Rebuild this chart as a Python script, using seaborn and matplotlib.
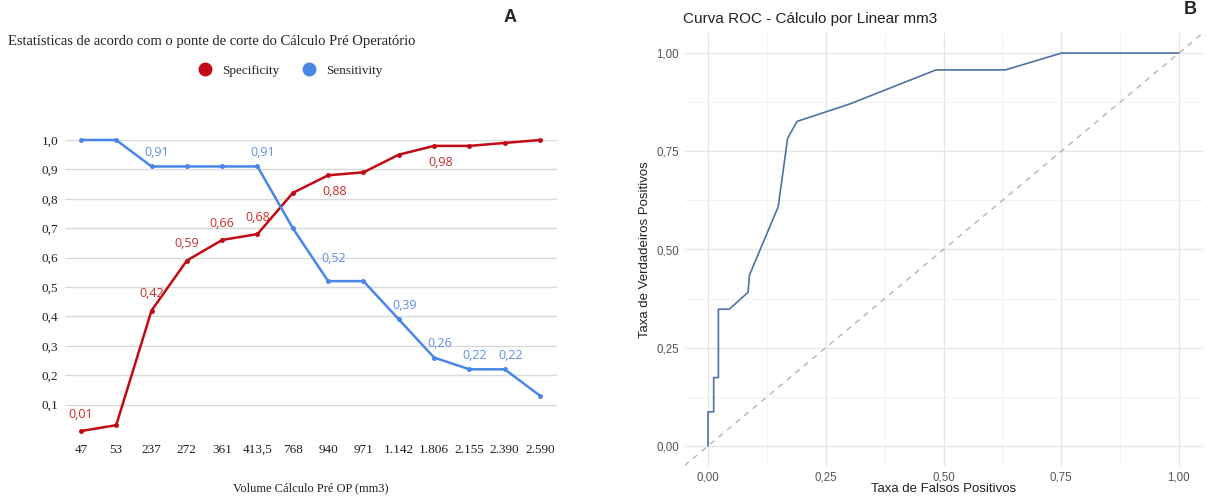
import numpy as np
import pandas as pd
import matplotlib
matplotlib.use("Agg")
import matplotlib.pyplot as plt
from matplotlib.lines import Line2D
from matplotlib.ticker import FixedLocator, FuncFormatter
import seaborn as sns

# ---------------- data ----------------
volumes = ["47", "53", "237", "272", "361", "413,5", "768", "940", "971",
           "1.142", "1.806", "2.155", "2.390", "2.590"]
specificity = [0.01, 0.03, 0.42, 0.59, 0.66, 0.68, 0.82, 0.88, 0.89,
               0.95, 0.98, 0.98, 0.99, 1.00]
sensitivity = [1.00, 1.00, 0.91, 0.91, 0.91, 0.91, 0.70, 0.52, 0.52,
               0.39, 0.26, 0.22, 0.22, 0.13]
spec_labelled = ["47", "237", "272", "361", "413,5", "940", "1.806"]
sens_labelled = ["237", "413,5", "940", "1.142", "1.806", "2.155", "2.390"]
spec_below = ["940", "1.806"]
y_ticks_a = [0.1, 0.2, 0.3, 0.4, 0.5, 0.6, 0.7, 0.8, 0.9, 1.0]

fpr = [0.0, 0.0, 0.012, 0.012, 0.022, 0.022, 0.045, 0.085, 0.088, 0.149,
       0.169, 0.189, 0.30, 0.484, 0.631, 0.751, 1.0]
tpr = [0.0, 0.087, 0.087, 0.174, 0.174, 0.348, 0.348, 0.391, 0.435, 0.609,
       0.783, 0.826, 0.870, 0.957, 0.957, 1.0, 1.0]
roc_ticks = [0.0, 0.25, 0.5, 0.75, 1.0]

RED = "#c20a14"
BLUE = "#4a86e8"
RED_TXT = "#cc2a2a"
BLUE_TXT = "#5b8ee6"
ROC_COL = "#4e72a6"

sns.set_theme(style="white")
plt.rcParams["font.family"] = ["Liberation Sans", "DejaVu Sans"]

fig = plt.figure(figsize=(12.09, 4.99), dpi=100)

# ---------------- panel A ----------------
axA = fig.add_axes([65 / 1209, 1 - 434 / 499, 492 / 1209, 294 / 499])
df = pd.DataFrame({
    "volume": volumes * 2,
    "valor": specificity + sensitivity,
    "serie": ["Specificity"] * len(volumes) + ["Sensitivity"] * len(volumes),
})
sns.pointplot(data=df, x="volume", y="valor", hue="serie", order=volumes,
              palette={"Specificity": RED, "Sensitivity": BLUE},
              markers="o", markersize=2.2, linewidth=1.8, errorbar=None,
              ax=axA, legend=False)
for coll in axA.collections:
    coll.set_clip_on(False)
for ln in axA.lines:
    ln.set_clip_on(False)

axA.set_xlim(-0.45, len(volumes) - 1 + 0.48)
axA.set_ylim(0, 1.0)
axA.yaxis.set_major_locator(FixedLocator(y_ticks_a))
axA.yaxis.set_major_formatter(FuncFormatter(lambda v, p: f"{v:.1f}".replace(".", ",")))
axA.grid(axis="y", color="#d9d9d9", linewidth=1.0)
axA.set_axisbelow(True)
for s in axA.spines.values():
    s.set_visible(False)
axA.tick_params(axis="both", length=0, labelsize=9.5, colors="#222222")
axA.tick_params(axis="x", pad=7)
axA.tick_params(axis="y", pad=5)
for lab in axA.get_xticklabels() + axA.get_yticklabels():
    lab.set_family("Liberation Serif")
axA.set_xlabel("Volume Cálculo Pré OP (mm3)", family="Liberation Serif",
               fontsize=9, color="#222222", labelpad=19)
axA.set_ylabel("")

for i, v in enumerate(volumes):
    if v in spec_labelled:
        below = v in spec_below
        axA.annotate(f"{specificity[i]:.2f}".replace(".", ","), (i, specificity[i]),
                     xytext=(5 if below else 0, -12 if below else 12),
                     textcoords="offset points", ha="center", va="center",
                     color=RED_TXT, fontsize=9, family="Open Sans")
    if v in sens_labelled:
        axA.annotate(f"{sensitivity[i]:.2f}".replace(".", ","), (i, sensitivity[i]),
                     xytext=(4, 10 if v not in ("940",) else 16),
                     textcoords="offset points", ha="center", va="center",
                     color=BLUE_TXT, fontsize=9, family="Open Sans")

fig.text(8 / 1209, 1 - 42 / 499,
         "Estatísticas de acordo com o ponte de corte do Cálculo Pré Operatório",
         family="Liberation Serif", fontsize=10.5, ha="left", va="center", color="#222222")
handles = [Line2D([], [], marker="o", linestyle="", markersize=9, color=RED),
           Line2D([], [], marker="o", linestyle="", markersize=9, color=BLUE)]
fig.legend(handles, ["Specificity", "Sensitivity"], loc="center",
           bbox_to_anchor=(287 / 1209, 1 - 71 / 499), ncol=2, frameon=False,
           prop={"family": "Liberation Serif", "size": 9.5}, handletextpad=0.3,
           columnspacing=1.2)
fig.text(510 / 1209, 1 - 18 / 499, "A", fontsize=13, fontweight="bold",
         ha="center", va="center", family="Liberation Sans")

# ---------------- panel B ----------------
axB = fig.add_axes([684.5 / 1209, 1 - 465.6 / 499, 518 / 1209, 432.2 / 499])
axB.axline((0, 0), slope=1, color="#b3b3b3", linestyle=(0, (4, 4)), linewidth=1.0)
sns.lineplot(x=fpr, y=tpr, sort=False, estimator=None, color=ROC_COL,
             linewidth=1.2, ax=axB)
axB.set_xlim(-0.05, 1.05)
axB.set_ylim(-0.05, 1.05)
axB.xaxis.set_major_locator(FixedLocator(roc_ticks))
axB.yaxis.set_major_locator(FixedLocator(roc_ticks))
minor = [0.125, 0.375, 0.625, 0.875]
axB.xaxis.set_minor_locator(FixedLocator(minor))
axB.yaxis.set_minor_locator(FixedLocator(minor))
fmt = FuncFormatter(lambda v, p: f"{v:.2f}".replace(".", ","))
axB.xaxis.set_major_formatter(fmt)
axB.yaxis.set_major_formatter(fmt)
axB.grid(which="major", color="#e6e6e6", linewidth=1.0)
axB.grid(which="minor", color="#efefef", linewidth=0.6)
axB.set_axisbelow(True)
for s in axB.spines.values():
    s.set_visible(False)
axB.tick_params(axis="both", which="both", length=0, labelsize=8.3, colors="#555555")
axB.tick_params(axis="x", pad=4)
axB.tick_params(axis="y", pad=4)
axB.set_xlabel("Taxa de Falsos Positivos", fontsize=9.5, color="#222222", labelpad=0)
axB.set_ylabel("Taxa de Verdadeiros Positivos", fontsize=9.5, color="#222222", labelpad=4)
fig.text(683 / 1209, 1 - 19 / 499, "Curva ROC - Cálculo por Linear mm3",
         fontsize=11, ha="left", va="center", color="#222222")
fig.text(1190 / 1209, 1 - 10 / 499, "B", fontsize=13, fontweight="bold",
         ha="center", va="center")

fig.savefig("out.png", dpi=100)
